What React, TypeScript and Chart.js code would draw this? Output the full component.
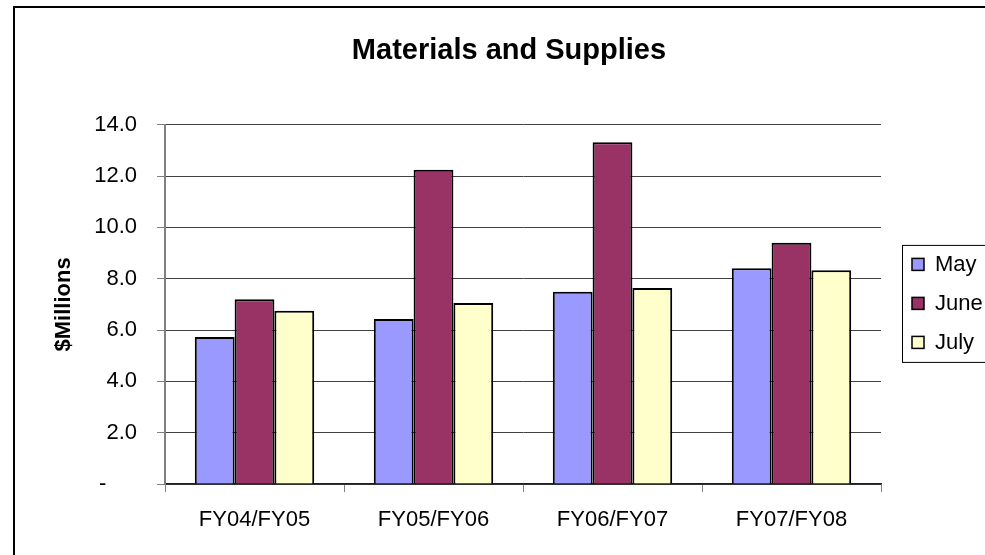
import { useEffect, useRef } from 'react';
import { Chart, registerables } from 'chart.js';

Chart.register(...registerables);

const categories = ['FY04/FY05', 'FY05/FY06', 'FY06/FY07', 'FY07/FY08'];
const seriesNames = ['May', 'June', 'July'];
const mayValues = [5.73, 6.43, 7.49, 8.41];
const juneValues = [7.2, 12.25, 13.32, 9.4];
const julyValues = [6.75, 7.05, 7.64, 8.33];
const seriesColors = ['#9999FF', '#993366', '#FFFFCC'];
const chartTitle = 'Materials and Supplies';
const yAxisTitle = '$Millions';

const FONT = '"Liberation Sans", Arial, sans-serif';

const legendBox = {
  id: 'legendBox',
  afterDraw(chart: any) {
    const { ctx, chartArea } = chart;
    const cy = (chartArea.top + chartArea.bottom) / 2 - 1;
    const rowGap = 39;
    const left = chartArea.right + 21;
    const top = cy - 58.5;
    ctx.save();
    ctx.strokeStyle = '#000';
    ctx.lineWidth = 1;
    ctx.strokeRect(left + 0.5, top + 0.5, 120, 117);
    ctx.font = `22px ${FONT}`;
    ctx.textBaseline = 'middle';
    ctx.textAlign = 'left';
    chart.data.datasets.forEach((ds: any, i: number) => {
      const y = cy + (i - 1) * rowGap;
      ctx.fillStyle = ds.backgroundColor;
      ctx.fillRect(left + 10, y - 6, 12, 12);
      ctx.strokeStyle = '#000';
      ctx.lineWidth = 1.5;
      ctx.strokeRect(left + 10, y - 6, 12, 12);
      ctx.fillStyle = '#000';
      ctx.fillText(ds.label, left + 33, y + 1);
    });
    ctx.restore();
  },
};

export default function App() {
  const ref = useRef<HTMLCanvasElement>(null);

  useEffect(() => {
    if (!ref.current) return;
    const values = [mayValues, juneValues, julyValues];
    const chart = new Chart(ref.current, {
      type: 'bar',
      data: {
        labels: categories,
        datasets: seriesNames.map((name, i) => ({
          label: name,
          data: values[i],
          backgroundColor: seriesColors[i],
          borderColor: '#000',
          borderWidth: 2,
          categoryPercentage: 0.667,
          barPercentage: 1,
        })),
      },
      options: {
        responsive: false,
        animation: false,
        devicePixelRatio: 1,
        layout: { padding: { left: 33, right: 0, top: 0, bottom: 0 } },
        plugins: {
          legend: { display: false },
          tooltip: { enabled: false },
          title: {
            display: true,
            text: chartTitle,
            color: '#000',
            font: { family: FONT, size: 29, weight: 'bold' },
            padding: { top: 34, bottom: 56 },
          },
        },
        scales: {
          x: {
            afterFit(scale: any) {
              scale.height = 71;
            },
            grid: {
              drawOnChartArea: false,
              drawTicks: true,
              tickLength: 8,
              tickColor: '#808080',
              offset: true,
            },
            border: { color: '#202020', width: 1.5 },
            ticks: {
              color: '#000',
              font: { family: FONT, size: 22 },
              padding: 15,
              maxRotation: 0,
            },
          },
          y: {
            min: 0,
            max: 14,
            afterFit(scale: any) {
              scale.width = 132;
            },
            ticks: {
              stepSize: 2,
              color: '#000',
              padding: 20,
              font: { family: FONT, size: 22 },
              callback: (v: any) => (Number(v) === 0 ? '-     ' : Number(v).toFixed(1)),
            },
            grid: {
              color: '#404040',
              lineWidth: 1,
              tickColor: '#808080',
              tickLength: 8,
            },
            border: { color: '#808080', width: 2 },
            title: {
              display: true,
              text: yAxisTitle,
              color: '#000',
              font: { family: FONT, size: 22, weight: 'bold' },
              padding: { top: 18, bottom: 0 },
            },
          },
          y2: {
            position: 'right',
            min: 0,
            max: 1,
            afterFit(scale: any) {
              scale.width = 104;
            },
            ticks: { display: false },
            grid: { display: false },
            border: { display: false },
          },
        },
      },
      plugins: [legendBox],
    });
    return () => chart.destroy();
  }, []);

  return (
    <div style={{ position: 'fixed', left: 0, top: 0, width: 985, height: 555, background: '#fff' }}>
      <canvas ref={ref} width={985} height={555} style={{ display: 'block', width: 985, height: 555 }} />
      <div
        style={{
          position: 'absolute',
          left: 13,
          top: 6,
          width: 1000,
          height: 600,
          borderLeft: '2px solid #000',
          borderTop: '2px solid #000',
          pointerEvents: 'none',
        }}
      />
    </div>
  );
}
